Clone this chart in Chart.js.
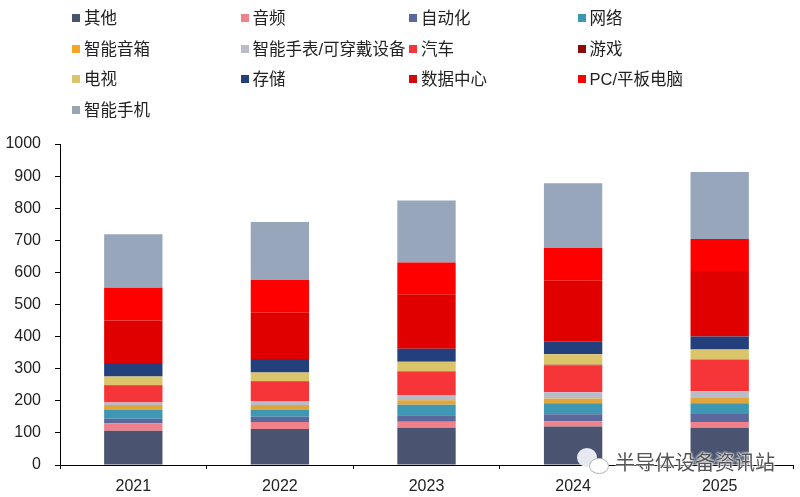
<!DOCTYPE html>
<html>
<head>
<meta charset="utf-8">
<script src="https://cdn.jsdelivr.net/npm/chart.js@4"></script>
<style>
html, body { margin: 0; padding: 0; background: #fff; }
#wrap { position: relative; width: 800px; height: 497px; overflow: hidden; }
#wrap canvas { position: absolute; left: 0; top: 0; }
.key { position: absolute; font: 16.5px "Liberation Sans", "Noto Sans CJK SC", sans-serif; color: #222; line-height: 20px; white-space: nowrap; }
.key i { position: absolute; left: -12px; top: 6px; width: 8px; height: 8px; }
#mark { position: absolute; left: 615px; top: 449px; font: 20px "Noto Sans CJK SC", sans-serif; color: #555; line-height: 26px; white-space: nowrap; text-shadow: 0 0 2px #fff, 0 0 2px #fff, 0 0 3px #fff; }
.bubble { position: absolute; border-radius: 50%; }
</style>
</head>
<body>
<div id="wrap">
    <canvas id="chipChart" width="800" height="497"></canvas>
    <div class="bubble" style="left:577px;top:448px;width:20px;height:19px;background:#e6e9f0"></div>
    <div class="bubble" style="left:589px;top:458px;width:18px;height:14px;background:#fff;border:1px solid #bbb"></div>
    <div id="mark">半导体设备资讯站</div>
</div>
<script>
const years = ['2021', '2022', '2023', '2024', '2025'];
const names = ['其他', '音频', '自动化', '网络', '智能音箱', '智能手表/可穿戴设备', '汽车', '游戏', '电视', '存储', '数据中心', 'PC/平板电脑', '智能手机'];
const colors = ['#4a5470', '#f0818a', '#5a689c', '#3e98b4', '#e0a63c', '#b8bcc8', '#f53538', '#8b0a0a', '#dcc46a', '#24407c', '#e00000', '#ff0000', '#98a6bc'];
const legendColors = ['#4a5470', '#f0818a', '#5a689c', '#3e98b4', '#f5a623', '#b8bcc8', '#f53538', '#8b0a0a', '#dcc46a', '#24407c', '#d00a0a', '#ff0000', '#98a6b0'];

const other = [107, 112, 116, 120, 116];
const audio = [23, 22, 19, 16, 18];
const automation = [14, 16, 20, 22, 25];
const network = [27, 23, 33, 34, 33];
const speaker = [16, 14, 14, 15, 17];
const wearable = [8, 12, 15, 20, 21];
const auto = [53, 62, 74, 84, 98];
const gaming = [1, 1, 1, 1, 1];
const tv = [27, 26, 30, 33, 31];
const storage = [42, 42, 40, 39, 40];
const dataCenter = [132, 144, 170, 190, 204];
const pc = [102, 102, 99, 102, 100];
const phone = [167, 181, 193, 202, 209];
const seriesValues = [other, audio, automation, network, speaker, wearable, auto, gaming, tv, storage, dataCenter, pc, phone];

// Legend sits in a fixed four column grid above the plot
function buildLegend() {
    const wrap = document.getElementById('wrap');
    names.forEach(function(name, i) {
        const key = document.createElement('div');
        key.className = 'key';
        key.style.left = (84 + (i % 4) * 168.5) + 'px';
        key.style.top = (8 + Math.floor(i / 4) * 30.6) + 'px';
        key.textContent = name;
        const swatch = document.createElement('i');
        swatch.style.background = legendColors[i];
        key.appendChild(swatch);
        wrap.appendChild(key);
    });
}

function initializeChipChart() {
    const ctx = document.getElementById('chipChart').getContext('2d');
    new Chart(ctx, {
        type: 'bar',
        data: {
            labels: years,
            datasets: names.map(function(name, i) {
                return {
                    label: name,
                    data: seriesValues[i],
                    backgroundColor: colors[i],
                    borderWidth: 0,
                    categoryPercentage: 1,
                    barPercentage: 0.398
                };
            })
        },
        options: {
            responsive: false,
            animation: false,
            layout: {
                padding: { top: 144, right: 7, left: 0, bottom: 0 }
            },
            plugins: {
                legend: { display: false },
                tooltip: { enabled: false }
            },
            scales: {
                x: {
                    stacked: true,
                    afterFit: function(scale) { scale.height = 32; },
                    border: { color: '#000', width: 1 },
                    grid: { drawOnChartArea: false, color: '#000', tickLength: 4 },
                    ticks: {
                        color: '#222',
                        padding: 8,
                        maxRotation: 0,
                        font: { family: '"Liberation Sans"', size: 16 }
                    }
                },
                y: {
                    stacked: true,
                    min: 0,
                    max: 1000,
                    afterFit: function(scale) { scale.width = 60; },
                    border: { color: '#000', width: 1 },
                    grid: { drawOnChartArea: false, color: '#000', tickLength: 5 },
                    ticks: {
                        stepSize: 100,
                        color: '#222',
                        padding: 14,
                        font: { family: '"Liberation Sans"', size: 16 },
                        callback: function(value) { return String(value); }
                    }
                }
            }
        }
    });
}

buildLegend();
initializeChipChart();
</script>
</body>
</html>
